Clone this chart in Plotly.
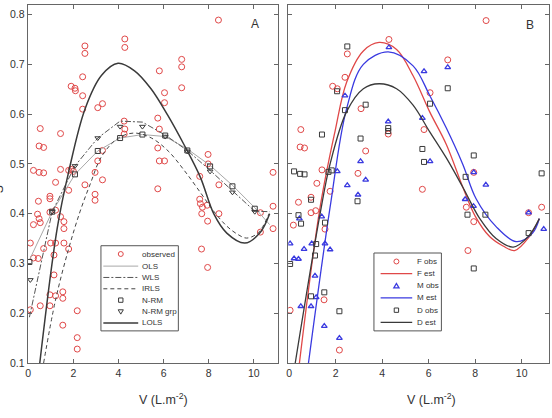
import plotly.graph_objects as go

W, H = 552, 418

# ---------------- Panel A data ----------------
obs_x = [8.43, 4.28, 4.28, 2.51, 2.51, 2.41, 1.90, 2.07, 2.09, 2.41, 2.41, 3.08, 3.29, 5.81, 6.80, 6.80, 6.80,
         6.04, 6.04, 5.74, 5.81, 4.25, 4.28, 4.25, 5.81, 6.04, 5.74, 5.74, 1.43, 0.53, 0.48, 0.68, 0.23, 0.48,
         0.68, 1.43, 1.21, 1.79, 1.90, 2.00, 1.79, 2.51, 3.08, 3.29, 3.29, 2.96, 2.96, 2.96, 0.45, 0.96, 0.96,
         7.97, 7.60, 7.97, 8.45, 10.85, 7.60, 7.63, 7.72, 7.69, 7.95, 7.93, 8.45, 7.68, 7.95, 10.29, 10.29,
         10.85, 10.85, 0.41, 0.48, 0.53, 0.23, 0.09, 0.96, 1.21, 1.43, 1.58, 1.58, 1.58, 0.99, 1.21, 1.79,
         0.68, 1.14, 0.23, 0.44, 1.14, 1.53, 1.53, 0.96, 1.21, 0.96, 0.53, 0.09, 1.53, 2.17, 2.17, 2.17]
obs_y = [0.789, 0.751, 0.734, 0.737, 0.722, 0.675, 0.656, 0.652, 0.647, 0.637, 0.610, 0.613, 0.621, 0.687, 0.710,
         0.695, 0.653, 0.643, 0.623, 0.592, 0.570, 0.586, 0.570, 0.560, 0.506, 0.506, 0.532, 0.450, 0.561, 0.571,
         0.536, 0.533, 0.487, 0.483, 0.482, 0.489, 0.463, 0.487, 0.489, 0.485, 0.447, 0.458, 0.506, 0.527, 0.468,
         0.483, 0.439, 0.427, 0.425, 0.435, 0.430, 0.519, 0.475, 0.500, 0.458, 0.483, 0.429, 0.420, 0.413, 0.400,
         0.385, 0.417, 0.400, 0.329, 0.292, 0.402, 0.363, 0.415, 0.370, 0.399, 0.390, 0.382, 0.378, 0.341, 0.403,
         0.407, 0.394, 0.384, 0.370, 0.341, 0.341, 0.341, 0.329, 0.330, 0.317, 0.311, 0.310, 0.277, 0.243, 0.230,
         0.237, 0.235, 0.215, 0.215, 0.207, 0.176, 0.205, 0.151, 0.128]

grp_x = [0.05, 1.06, 2.07, 3.08, 4.07, 5.06, 6.07, 7.05, 8.06, 9.05, 10.04]
nrm_y = [0.303, 0.404, 0.479, 0.526, 0.552, 0.559, 0.557, 0.527, 0.495, 0.455, 0.410]
nrmg_x = [0.09, 1.06, 2.07, 3.08, 4.07, 5.06, 6.07, 7.05, 8.06, 9.05, 10.04]
nrmg_y = [0.267, 0.404, 0.496, 0.552, 0.575, 0.575, 0.555, 0.525, 0.485, 0.443, 0.404]

ols_x = [0.05, 1.06, 2.07, 3.08, 4.07, 5.06, 6.07, 7.05, 8.06, 9.05, 10.04, 10.7]
ols_y = [0.307, 0.404, 0.479, 0.526, 0.552, 0.559, 0.555, 0.530, 0.497, 0.457, 0.412, 0.378]
wls_x = [0.05, 1.06, 2.07, 3.08, 4.07, 5.06, 6.07, 7.05, 8.06, 9.05, 10.04, 10.7]
wls_y = [0.192, 0.404, 0.496, 0.552, 0.586, 0.584, 0.558, 0.527, 0.487, 0.445, 0.405, 0.404]
irls_x = [0.68, 1.2, 1.78, 2.3, 2.75, 3.25, 3.99, 4.72, 5.46, 6.2, 6.93, 7.67, 8.22, 8.8, 9.3, 9.68, 10.2, 10.67]
irls_y = [0.10, 0.225, 0.328, 0.405, 0.46, 0.515, 0.552, 0.562, 0.552, 0.526, 0.486, 0.440, 0.405, 0.375, 0.358,
          0.351, 0.362, 0.40]
lols_x = [0.51, 1.28, 1.8, 2.52, 3.25, 3.98, 4.71, 5.44, 6.18, 6.9, 7.63, 8.22, 8.8, 9.6, 10.26, 10.7]
lols_y = [0.10, 0.37, 0.486, 0.611, 0.678, 0.702, 0.687, 0.651, 0.598, 0.539, 0.473, 0.40, 0.361, 0.341, 0.361, 0.40]

# ---------------- Panel B data ----------------
f_obs_x = [8.47, 4.29, 2.50, 2.40, 1.87, 2.07, 3.09, 3.29, 2.96, 6.82, 6.06, 5.80, 4.26, 5.73, 7.94, 0.50, 0.47,
           0.66, 1.41, 1.19, 1.76, 0.94, 0.40, 10.86, 0.94, 1.14, 0.18, 1.54, 0.04, 1.50, 2.16, 7.94, 7.69, 7.62, 10.30]
f_obs_y = [0.788, 0.750, 0.721, 0.674, 0.656, 0.651, 0.611, 0.526, 0.481, 0.709, 0.643, 0.569, 0.560, 0.449, 0.483,
           0.569, 0.534, 0.532, 0.488, 0.461, 0.445, 0.433, 0.423, 0.413, 0.402, 0.406, 0.377, 0.369, 0.206, 0.227,
           0.126, 0.384, 0.326, 0.413, 0.402]
m_obs_x = [4.29, 5.80, 6.82, 2.40, 4.26, 5.73, 6.06, 3.07, 2.07, 3.29, 2.50, 2.96, 7.94, 8.46, 7.57, 0.44, 1.40,
           0.04, 0.97, 1.54, 0.64, 1.76, 0.21, 0.40, 1.11, 1.16, 0.50, 0.94, 1.51, 2.16, 7.93, 10.30, 10.95]
m_obs_y = [0.734, 0.686, 0.694, 0.637, 0.585, 0.592, 0.505, 0.505, 0.485, 0.468, 0.457, 0.438, 0.483, 0.458, 0.429,
           0.390, 0.394, 0.340, 0.340, 0.340, 0.329, 0.328, 0.310, 0.309, 0.275, 0.232, 0.214, 0.214, 0.174, 0.150,
           0.415, 0.402, 0.369]
d_obs_x = [2.50, 6.82, 2.06, 2.40, 3.29, 6.06, 1.41, 3.07, 4.26, 4.26, 5.73, 5.80, 7.94, 7.59, 10.86, 0.21, 0.47,
           0.66, 1.83, 1.69, 2.94, 0.94, 0.40, 0.51, 1.54, 1.16, 1.11, 0.04, 0.94, 1.51, 2.16, 7.67, 8.44, 7.94, 10.30]
d_obs_y = [0.736, 0.652, 0.646, 0.608, 0.619, 0.621, 0.559, 0.551, 0.572, 0.566, 0.530, 0.504, 0.517, 0.474, 0.481,
           0.485, 0.480, 0.479, 0.487, 0.484, 0.425, 0.428, 0.397, 0.380, 0.382, 0.339, 0.316, 0.299, 0.234, 0.242,
           0.204, 0.398, 0.398, 0.290, 0.361]

f_est_x = [0.44, 1.33, 1.97, 2.47, 3.19, 3.87, 4.62, 5.33, 6.04, 6.76, 7.47, 8.0, 8.62, 9.2, 9.7, 10.33, 10.76]
f_est_y = [0.10, 0.413, 0.565, 0.664, 0.727, 0.744, 0.730, 0.677, 0.605, 0.539, 0.453, 0.395, 0.354, 0.335, 0.326,
           0.354, 0.39]
m_est_x = [0.83, 1.76, 2.47, 3.19, 4.26, 5.33, 6.04, 6.76, 7.47, 8.04, 8.9, 9.76, 10.47, 10.76]
m_est_y = [0.10, 0.413, 0.611, 0.700, 0.725, 0.697, 0.638, 0.572, 0.499, 0.43, 0.374, 0.344, 0.361, 0.39]
d_est_x = [0.26, 1.33, 1.76, 2.47, 3.19, 3.87, 4.62, 5.33, 6.04, 6.76, 7.47, 8.2, 8.9, 9.64, 10.3, 10.76]
d_est_y = [0.10, 0.40, 0.50, 0.605, 0.651, 0.661, 0.651, 0.618, 0.565, 0.512, 0.453, 0.39, 0.35, 0.333, 0.355, 0.39]

x_ticks = [0, 2, 4, 6, 8, 10]
y_ticks = [0.1, 0.2, 0.3, 0.4, 0.5, 0.6, 0.7, 0.8]

legend_a = ["observed", "OLS", "WLS", "IRLS", "N-RM", "N-RM grp", "LOLS"]
legend_b = ["F obs", "F est", "M obs", "M est", "D obs", "D est"]

# ---------------- styles ----------------
RED = "#e04848"
BLUE = "#3a3ae0"
DARK = "#3a3a3a"
LIGHT = "#a8a8a8"
FONT = "Liberation Sans, Arial, sans-serif"

st = {
    "observed": dict(mode="markers", marker=dict(symbol="circle-open", size=6, color=RED, line=dict(width=1))),
    "OLS": dict(mode="lines", line=dict(color=LIGHT, width=1)),
    "WLS": dict(mode="lines", line=dict(color="#555555", width=1, dash="6px,2px,2px,2px")),
    "IRLS": dict(mode="lines", line=dict(color="#444444", width=1, dash="4px,3px", shape="spline")),
    "N-RM": dict(mode="markers", marker=dict(symbol="square-open", size=5, color=DARK, line=dict(width=1))),
    "N-RM grp": dict(mode="markers", marker=dict(symbol="triangle-down-open", size=5, color=DARK, line=dict(width=1))),
    "LOLS": dict(mode="lines", line=dict(color=DARK, width=1.5, shape="spline")),
    "F obs": dict(mode="markers", marker=dict(symbol="circle-open", size=6, color=RED, line=dict(width=1))),
    "F est": dict(mode="lines", line=dict(color=RED, width=1.3, shape="spline")),
    "M obs": dict(mode="markers", marker=dict(symbol="triangle-up-open", size=5, color=BLUE, line=dict(width=1.3))),
    "M est": dict(mode="lines", line=dict(color=BLUE, width=1.3, shape="spline")),
    "D obs": dict(mode="markers", marker=dict(symbol="square-open", size=5, color=DARK, line=dict(width=1))),
    "D est": dict(mode="lines", line=dict(color=DARK, width=1.3, shape="spline")),
}

fig = go.Figure()

def add(name, x, y, ax):
    xa, ya = ("x", "y") if ax == 1 else ("x2", "y2")
    fig.add_trace(go.Scatter(x=x, y=y, name=name, xaxis=xa, yaxis=ya, showlegend=False,
                             hoverinfo="skip", cliponaxis=True, **st[name]))

add("observed", obs_x, obs_y, 1)
add("OLS", ols_x, ols_y, 1)
add("WLS", wls_x, wls_y, 1)
add("IRLS", irls_x, irls_y, 1)
add("N-RM", grp_x, nrm_y, 1)
add("N-RM grp", nrmg_x, nrmg_y, 1)
add("LOLS", lols_x, lols_y, 1)

add("F obs", f_obs_x, f_obs_y, 2)
add("F est", f_est_x, f_est_y, 2)
add("M obs", m_obs_x, m_obs_y, 2)
add("M est", m_est_x, m_est_y, 2)
add("D obs", d_obs_x, d_obs_y, 2)
add("D est", d_est_x, d_est_y, 2)

def px(x):
    return x / W

def py(y):
    return 1 - y / H

ax_common = dict(showline=True, linecolor="#666666", linewidth=1, mirror="ticks", ticks="inside",
                 ticklen=4, tickcolor="#666666", showgrid=False, zeroline=False,
                 tickfont=dict(family=FONT, size=10.5, color="#333333"))
yd = [py(368.3), py(4.7)]
fig.update_layout(
    width=W, height=H, margin=dict(l=0, r=0, t=0, b=0),
    paper_bgcolor="white", plot_bgcolor="white", showlegend=False,
    xaxis=dict(domain=[px(25.7), px(277)], range=[-0.03, 11.07], tickvals=x_ticks, **ax_common),
    yaxis=dict(domain=yd, range=[0.1, 0.82], tickvals=y_ticks, ticktext=[f"{v:.1f}" for v in y_ticks], **ax_common),
    xaxis2=dict(domain=[px(287.3), px(549.3)], range=[-0.04, 11.19], tickvals=x_ticks, anchor="y2", **ax_common),
    yaxis2=dict(domain=yd, range=[0.1, 0.82], tickvals=y_ticks, showticklabels=False, anchor="x2", **ax_common),
)

shapes = []
ann = []

def box(x0, y0, x1, y1):
    shapes.append(dict(type="rect", xref="paper", yref="paper", x0=px(x0), x1=px(x1), y0=py(y1), y1=py(y0),
                       line=dict(color="#555555", width=1), fillcolor="white", layer="above"))

def sample(name, xl0, xl1, yc):
    s = st[name]
    xc = (xl0 + xl1) / 2
    if s["mode"] == "lines":
        ln = s["line"]
        shapes.append(dict(type="line", xref="paper", yref="paper", x0=px(xl0), x1=px(xl1), y0=py(yc), y1=py(yc),
                           line=dict(color=ln["color"], width=ln["width"], dash=ln.get("dash", "solid")),
                           layer="above"))
    else:
        m = s["marker"]
        sym = m["symbol"]
        r = 2.5
        lw = m["line"]["width"]
        if sym.startswith("circle"):
            shapes.append(dict(type="circle", xref="paper", yref="paper", x0=px(xc - r), x1=px(xc + r),
                               y0=py(yc + r), y1=py(yc - r), line=dict(color=m["color"], width=lw), layer="above"))
        elif sym.startswith("square"):
            r = 2.2
            shapes.append(dict(type="rect", xref="paper", yref="paper", x0=px(xc - r), x1=px(xc + r),
                               y0=py(yc + r), y1=py(yc - r), line=dict(color=m["color"], width=lw), layer="above"))
        else:
            d = 1 if "down" in sym else -1
            pts = [(xc - 2.6, yc - d * 2.0), (xc + 2.6, yc - d * 2.0), (xc, yc + d * 2.4)]
            path = "M " + " L ".join(f"{px(a):.5f},{py(b):.5f}" for a, b in pts) + " Z"
            shapes.append(dict(type="path", xref="paper", yref="paper", path=path,
                               line=dict(color=m["color"], width=lw), layer="above"))

def text(t, x, y, size, anchor="left", angle=0):
    ann.append(dict(text=t, x=px(x), y=py(y), xref="paper", yref="paper", showarrow=False, xanchor=anchor,
                    yanchor="middle", textangle=angle, font=dict(family=FONT, size=size, color="#333333")))

# legend A
box(99.3, 249.3, 177.0, 335.7)
rows_a = [257.7, 270.0, 281.5, 293.0, 304.5, 316.3, 327.7]
for name, yc in zip(legend_a, rows_a):
    sample(name, 101.7, 136.7, yc)
    text(name, 139.0, yc, 8)

# legend B
box(373.3, 256.7, 441.0, 335.7)
rows_b = [265.3, 277.7, 290.0, 302.3, 314.7, 327.0]
for name, yc in zip(legend_b, rows_b):
    sample(name, 380.0, 411.7, yc)
    text(name, 414.0, yc, 8)

# panel letters and axis titles
text("A", 254, 24, 12, anchor="center")
text("B", 530, 25, 12, anchor="center")
text("V (L.m<sup>-2</sup>)", 162, 405, 12.5, anchor="center")
text("V (L.m<sup>-2</sup>)", 431, 405, 12.5, anchor="center")
text("S", -3, 192, 12, anchor="center", angle=-90)

fig.update_layout(shapes=shapes, annotations=ann)
fig.write_html("out.html")
